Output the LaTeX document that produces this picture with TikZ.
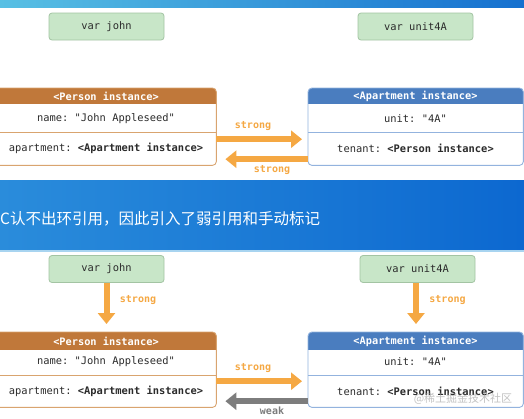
\documentclass[tikz,border=0pt]{standalone}
\usepackage{fontspec}
\setmonofont{DejaVu Sans Mono}
\newfontfamily\cjk{Noto Sans CJK SC}
\usetikzlibrary{arrows.meta}
\definecolor{hdrO}{HTML}{C0783A}
\definecolor{bdrO}{HTML}{D9A46F}
\definecolor{hdrB}{HTML}{4A7DBF}
\definecolor{bdrB}{HTML}{93B3DE}
\definecolor{greenF}{HTML}{C8E6C8}
\definecolor{greenD}{HTML}{A3C4A3}
\definecolor{arrO}{HTML}{F5A843}
\definecolor{arrG}{HTML}{7D7D7D}
\definecolor{txt}{HTML}{2B2B2B}
\definecolor{bandL}{HTML}{2A8CDB}
\definecolor{bandR}{HTML}{0C68D0}
\definecolor{barL}{HTML}{58C0E4}
\definecolor{barR}{HTML}{1570CF}
\definecolor{bandEdge}{HTML}{A8D4F0}
\begin{document}
\begin{tikzpicture}[x=1pt,y=-1pt,
  varbox/.style={draw=greenD, fill=greenF, rounded corners=3pt, line width=0.8pt,
    minimum width=115pt, minimum height=27pt, inner sep=0,
    font=\ttfamily\fontsize{10.4}{12}\selectfont, text=txt},
  instbox/.style={anchor=north west, inner sep=0, minimum width=220pt},
  apbox/.style={anchor=north west, inner sep=0, minimum width=215pt},
  rowtext/.style={font=\ttfamily\fontsize{10.4}{12}\selectfont, text=txt, inner sep=0},
  hdrtext/.style={font=\ttfamily\bfseries\fontsize{10.3}{12}\selectfont, text=white, inner sep=0},
  lbl/.style={font=\ttfamily\bfseries\fontsize{10}{12}\selectfont, text=arrO, inner sep=0},
  glbl/.style={font=\ttfamily\bfseries\fontsize{10}{12}\selectfont, text=arrG, inner sep=0},
  oarrow/.style={draw=arrO, line width=6pt, -{Triangle[width=17pt,length=11pt]}},
  garrow/.style={draw=arrG, line width=6pt, -{Triangle[width=17pt,length=11pt]}},
  border/.style={line width=0.9pt, rounded corners=4pt}
]
\useasboundingbox (0,0) rectangle (524,418);
\fill[white] (0,0) rectangle (524,418);
% top bar
\shade[left color=barL, right color=barR] (0,0) rectangle (524,7);
% middle band
\shade[left color=bandL, right color=bandR] (0,180) rectangle (524,250);
\fill[bandEdge] (0,250) rectangle (524,252);
\node[anchor=west, inner sep=0, text=white, font=\cjk\fontsize{15.5}{18}\selectfont] (title) at (0,219) {C认不出环引用，因此引入了弱引用和手动标记};

% ================= TOP =================
\node[varbox] (gJ1) at (106.5,26.5) {var john};
\node[varbox] (gU1) at (415.5,26.5) {var unit4A};

% Person box top
\node[instbox, minimum height=77pt] (pA) at (-4,88) {};
\begin{scope}
\clip[rounded corners=4pt] (pA.north west) rectangle (pA.south east);
\fill[hdrO] (pA.north west) rectangle ([yshift=-16pt]pA.north east);
\end{scope}
\draw[bdrO, line width=0.9pt] (pA.west |- 0,132) -- (pA.east |- 0,132);
\draw[bdrO, border] (pA.north west) rectangle (pA.south east);
\node[hdrtext] (pAh) at (106,96.5) {<Person instance>};
\node[rowtext] (pAn) at (106,118.5) {name: "John Appleseed"};
\node[rowtext] (pAa) at (106,148.5) {apartment: \textbf{<Apartment instance>}};

% Apartment box top
\node[apbox, minimum height=77pt] (pB) at (308,88) {};
\begin{scope}
\clip[rounded corners=4pt] (pB.north west) rectangle (pB.south east);
\fill[hdrB] (pB.north west) rectangle ([yshift=-16pt]pB.north east);
\end{scope}
\draw[bdrB, line width=0.9pt] (pB.west |- 0,132) -- (pB.east |- 0,132);
\draw[bdrB, border] (pB.north west) rectangle (pB.south east);
\node[hdrtext] (pBh) at (415.5,96.5) {<Apartment instance>};
\node[rowtext] (pBu) at (415.5,118.5) {unit: "4A"};
\node[rowtext] (pBt) at (415.5,148.5) {tenant: \textbf{<Person instance>}};

% arrows top
\draw[oarrow, shorten >=6pt] ([yshift=-12.5pt]pA.east) -- ([yshift=-12.5pt]pB.west);
\draw[oarrow, shorten >=9pt] ([yshift=-32.5pt]pB.west) -- ([yshift=-32.5pt]pA.east);
\node[lbl] (l1) at (253,126) {strong};
\node[lbl] (l2) at (272,170) {strong};

% ================= BOTTOM =================
\node[varbox] (gJ2) at (106.5,269) {var john};
\node[varbox] (gU2) at (417.5,269) {var unit4A};

% Person box bottom
\node[instbox, minimum height=75pt] (pC) at (-4,332) {};
\begin{scope}
\clip[rounded corners=4pt] (pC.north west) rectangle (pC.south east);
\fill[hdrO] (pC.north west) rectangle ([yshift=-18pt]pC.north east);
\end{scope}
\draw[bdrO, line width=0.9pt] (pC.west |- 0,375) -- (pC.east |- 0,375);
\draw[bdrO, border] (pC.north west) rectangle (pC.south east);
\node[hdrtext] (pCh) at (106,341) {<Person instance>};
\node[rowtext] (pCn) at (106,362) {name: "John Appleseed"};
\node[rowtext] (pCa) at (106,391) {apartment: \textbf{<Apartment instance>}};

% Apartment box bottom
\node[apbox, minimum height=75pt] (pD) at (308,332) {};
\begin{scope}
\clip[rounded corners=4pt] (pD.north west) rectangle (pD.south east);
\fill[hdrB] (pD.north west) rectangle ([yshift=-18pt]pD.north east);
\end{scope}
\draw[bdrB, line width=0.9pt] (pD.west |- 0,375) -- (pD.east |- 0,375);
\draw[bdrB, border] (pD.north west) rectangle (pD.south east);
\node[hdrtext] (pDh) at (415.5,341) {<Apartment instance>};
\node[rowtext] (pDu) at (415.5,362) {unit: "4A"};
\node[rowtext] (pDt) at (415.5,391) {tenant: \textbf{<Person instance>}};

% down arrows
\draw[oarrow, shorten >=8pt] (gJ2.south) -- (gJ2.south |- pC.north);
\draw[oarrow, shorten >=8pt] ([xshift=-1.5pt]gU2.south) -- ([xshift=-1.5pt]gU2.south |- pD.north);
\node[lbl] (l3) at (138,300) {strong};
\node[lbl] (l4) at (447.5,300) {strong};

% horizontal arrows bottom
\draw[oarrow, shorten >=6pt] ([yshift=-11.5pt]pC.east) -- ([yshift=-11.5pt]pD.west);
\draw[garrow, shorten >=9pt] ([yshift=-31.5pt]pD.west) -- ([yshift=-31.5pt]pC.east);
\node[lbl] (l5) at (253,368) {strong};
\node[glbl] (l6) at (272,411) {weak};

% watermark
\node[font=\cjk\fontsize{11}{13}\selectfont, text=gray!80, opacity=0.6, inner sep=0] (wm) at (463,399) {@稀土掘金技术社区};
\end{tikzpicture}
\end{document}
